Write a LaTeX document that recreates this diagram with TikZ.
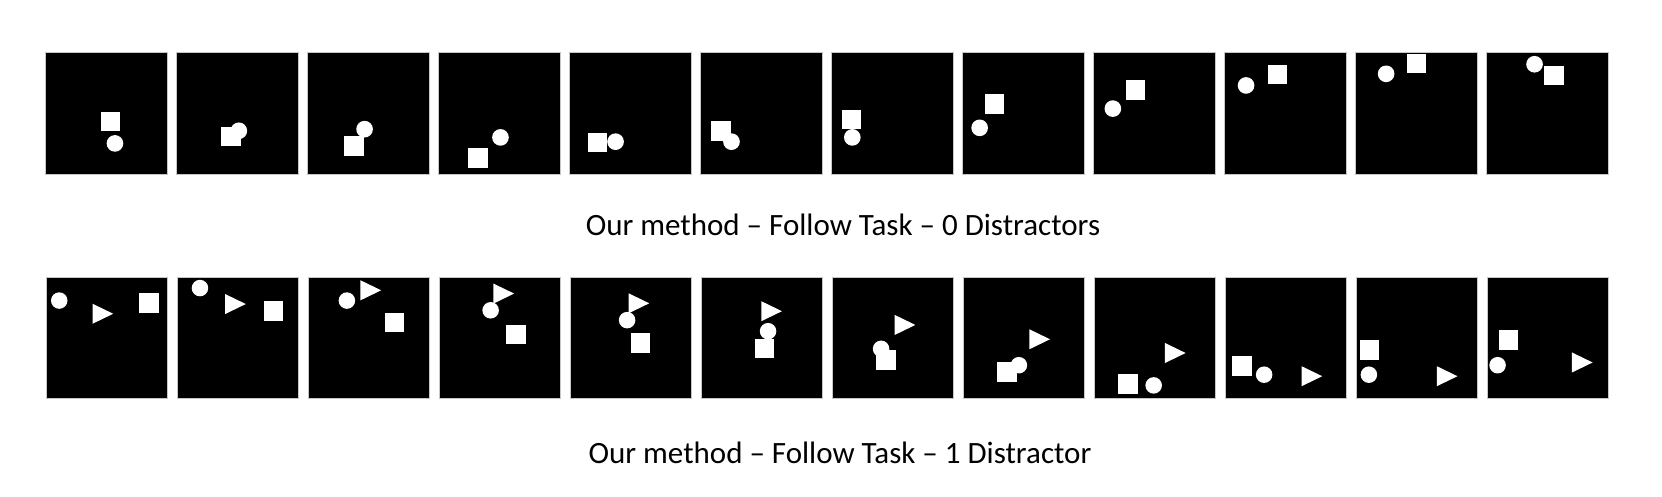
\documentclass[tikz,border=0pt]{standalone}
\usepackage{fontspec}
\setmainfont{Carlito}
\tikzset{
  panelstyle/.style={fill=black, draw=gray!45, line width=1pt},
  shapefill/.style={fill=white},
  captionstyle/.style={font=\fontsize{31pt}{37pt}\selectfont, inner sep=0pt, anchor=base}
}
\newcommand\mysq[2]{\fill[shapefill] (#1,#2) rectangle ++(0.16,0.16);}
\newcommand\mycirc[2]{\fill[shapefill] (#1,#2) circle[radius=0.068];}
\newcommand\mytri[2]{\fill[shapefill] (#1,#2) -- ++(0,0.165) -- ++(0.17,-0.0825) -- cycle;}
\newcommand\mypanel[4]{%
  \begin{scope}[shift={(#1pt,-#2pt)}, x=#3pt, y=-#3pt]
    \filldraw[panelstyle] (0,0) rectangle (1,1);
    #4
  \end{scope}}
\begin{document}
\begin{tikzpicture}[x=1pt,y=1pt]
\fill[white] (0,0) rectangle (1662,-496);
\useasboundingbox (0,0) rectangle (1662,-496);
% top row
\mypanel{45}{52}{122.5}{\mysq{0.455}{0.486}\mycirc{0.571}{0.746}}
\mypanel{176}{52}{122.5}{\mysq{0.368}{0.611}\mycirc{0.513}{0.643}}
\mypanel{307}{52}{122.5}{\mysq{0.304}{0.689}\mycirc{0.470}{0.630}}
\mypanel{438}{52}{122.5}{\mysq{0.246}{0.784}\mycirc{0.510}{0.697}}
\mypanel{569}{52}{122.5}{\mysq{0.153}{0.659}\mycirc{0.380}{0.732}}
\mypanel{700}{52}{122.5}{\mysq{0.090}{0.565}\mycirc{0.257}{0.732}}
\mypanel{831}{52}{122.5}{\mysq{0.087}{0.470}\mycirc{0.174}{0.697}}
\mypanel{962}{52}{122.5}{\mysq{0.184}{0.343}\mycirc{0.144}{0.619}}
\mypanel{1093}{52}{122.5}{\mysq{0.268}{0.232}\mycirc{0.162}{0.462}}
\mypanel{1224}{52}{122.5}{\mysq{0.357}{0.105}\mycirc{0.180}{0.273}}
\mypanel{1355}{52}{122.5}{\mysq{0.423}{0.0135}\mycirc{0.254}{0.178}}
\mypanel{1486}{52}{122.5}{\mysq{0.476}{0.111}\mycirc{0.396}{0.100}}
% bottom row
\mypanel{46}{277}{121.5}{\mycirc{0.109}{0.194}\mytri{0.383}{0.220}\mysq{0.767}{0.134}}
\mypanel{177}{277}{121.5}{\mycirc{0.189}{0.091}\mytri{0.396}{0.140}\mysq{0.716}{0.199}}
\mypanel{308}{277}{121.5}{\mycirc{0.320}{0.194}\mytri{0.432}{0.027}\mysq{0.633}{0.296}}
\mypanel{439}{277}{121.5}{\mycirc{0.425}{0.274}\mytri{0.448}{0.054}\mysq{0.552}{0.392}}
\mypanel{570}{277}{121.5}{\mycirc{0.470}{0.355}\mytri{0.482}{0.134}\mysq{0.500}{0.462}}
\mypanel{701}{277}{121.5}{\mycirc{0.552}{0.446}\mytri{0.496}{0.199}\mysq{0.442}{0.508}}
\mypanel{832}{277}{121.5}{\mycirc{0.404}{0.591}\mytri{0.516}{0.312}\mysq{0.363}{0.602}}
\mypanel{963}{277}{121.5}{\mycirc{0.460}{0.726}\mytri{0.546}{0.430}\mysq{0.283}{0.702}}
\mypanel{1094}{277}{121.5}{\mycirc{0.491}{0.892}\mytri{0.584}{0.543}\mysq{0.199}{0.801}}
\mypanel{1225}{277}{121.5}{\mycirc{0.322}{0.804}\mytri{0.630}{0.734}\mysq{0.060}{0.651}}
\mypanel{1356}{277}{121.5}{\mycirc{0.106}{0.804}\mytri{0.665}{0.734}\mysq{0.030}{0.519}}
\mypanel{1487}{277}{121.5}{\mycirc{0.087}{0.726}\mytri{0.699}{0.621}\mysq{0.096}{0.438}}
% captions
\node[captionstyle] (cap1) at (843,-235) {Our method – Follow Task – 0 Distractors};
\node[captionstyle] (cap2) at (840,-463) {Our method – Follow Task – 1 Distractor};
\end{tikzpicture}
\end{document}
